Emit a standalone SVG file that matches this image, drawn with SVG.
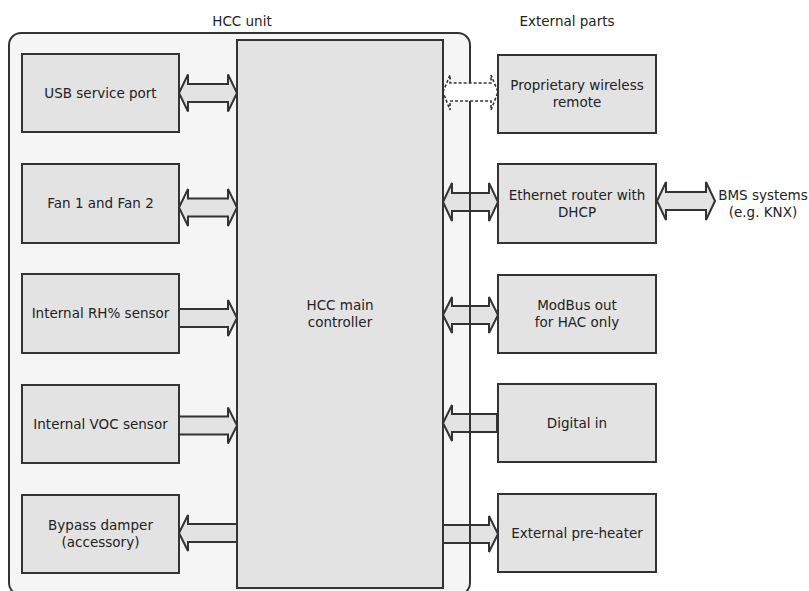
<svg xmlns="http://www.w3.org/2000/svg" width="809" height="591" viewBox="0 0 809 591">
<style>
  .box { fill: #e2e3e2; stroke: #333; stroke-width: 2; }
  .arr { fill: #e2e3e2; stroke: #333; stroke-width: 2; stroke-linejoin: miter; }
  .dash { fill: #ffffff; stroke: #333; stroke-width: 1.6; stroke-dasharray: 3 2; }
  text { font-family: "DejaVu Sans", "Liberation Sans", sans-serif; font-size: 13.5px; fill: #222; text-anchor: middle; }
</style>
<rect width="809" height="591" fill="#ffffff"/>
<g id="hcc-unit">
  <rect x="9" y="33" width="461" height="562" rx="12" ry="12" fill="#f4f5f4"/>
  <text x="242" y="26">HCC unit</text>
</g>
<text x="567" y="26">External parts</text>
<g id="connectors">
  <path class="arr" d="M179,93 L188,74.5 L188,84 L228,84 L228,74.5 L237,93 L228,111.5 L228,102 L188,102 L188,111.5 Z"/>
  <path class="arr" d="M179,207.5 L188,189 L188,198.5 L228,198.5 L228,189 L237,207.5 L228,226 L228,216.5 L188,216.5 L188,226 Z"/>
  <path class="arr" d="M179,309 L228,309 L228,300 L237,318 L228,336 L228,327 L179,327 Z"/>
  <path class="arr" d="M179,416.5 L228,416.5 L228,407.5 L237,425.5 L228,443.5 L228,434.5 L179,434.5 Z"/>
  <path class="arr" d="M237,524 L188,524 L188,515 L179,533 L188,551 L188,542 L237,542 Z"/>
  <path class="arr" d="M443,202 L452,183 L452,193 L489,193 L489,183 L498,202 L489,221 L489,211 L452,211 L452,221 Z"/>
  <path class="arr" d="M657,201 L666,182 L666,192 L706,192 L706,182 L715,201 L706,220 L706,210 L666,210 L666,220 Z"/>
  <path class="arr" d="M443,315 L452,297 L452,306 L489,306 L489,297 L498,315 L489,333 L489,324 L452,324 L452,333 Z"/>
  <path class="arr" d="M497,414 L452,414 L452,405 L443,423 L452,441 L452,432 L497,432 Z"/>
  <path class="arr" d="M443,525 L489,525 L489,516 L498,534 L489,552 L489,543 L443,543 Z"/>
</g>
<rect x="9" y="33" width="461" height="562" rx="12" ry="12" fill="none" stroke="#333" stroke-width="2"/>
<path class="dash" d="M443,92 L450,75 L450,83 L491,83 L491,75 L498,92 L491,110 L491,101 L450,101 L450,110 Z"/>
<g id="main-controller">
  <rect class="box" x="237" y="40" width="206" height="548"/>
  <text x="340" y="310">HCC main</text>
  <text x="340" y="327">controller</text>
</g>
<g id="usb">
  <rect class="box" x="22" y="54" width="157" height="78"/>
  <text x="100.5" y="98">USB service port</text>
</g>
<g id="fan">
  <rect class="box" x="22" y="164" width="157" height="79"/>
  <text x="100.5" y="208">Fan 1 and Fan 2</text>
</g>
<g id="rh">
  <rect class="box" x="22" y="274" width="157" height="79"/>
  <text x="100.5" y="318">Internal RH% sensor</text>
</g>
<g id="voc">
  <rect class="box" x="22" y="385" width="157" height="78"/>
  <text x="100.5" y="429">Internal VOC sensor</text>
</g>
<g id="bypass">
  <rect class="box" x="22" y="495" width="157" height="78"/>
  <text x="100.5" y="530">Bypass damper</text>
  <text x="100.5" y="547">(accessory)</text>
</g>
<g id="wireless">
  <rect class="box" x="498" y="55" width="158" height="78"/>
  <text x="577" y="90">Proprietary wireless</text>
  <text x="577" y="107">remote</text>
</g>
<g id="ethernet">
  <rect class="box" x="498" y="164" width="158" height="79"/>
  <text x="577" y="200">Ethernet router with</text>
  <text x="577" y="217">DHCP</text>
</g>
<g id="bms">
  <text x="763" y="200">BMS systems</text>
  <text x="763" y="217">(e.g. KNX)</text>
</g>
<g id="modbus">
  <rect class="box" x="498" y="275" width="158" height="78"/>
  <text x="577" y="310">ModBus out</text>
  <text x="577" y="327">for HAC only</text>
</g>
<g id="digital-in">
  <rect class="box" x="498" y="384" width="158" height="78"/>
  <text x="577" y="428">Digital in</text>
</g>
<g id="preheater">
  <rect class="box" x="498" y="494" width="158" height="78"/>
  <text x="577" y="538">External pre-heater</text>
</g>
</svg>
